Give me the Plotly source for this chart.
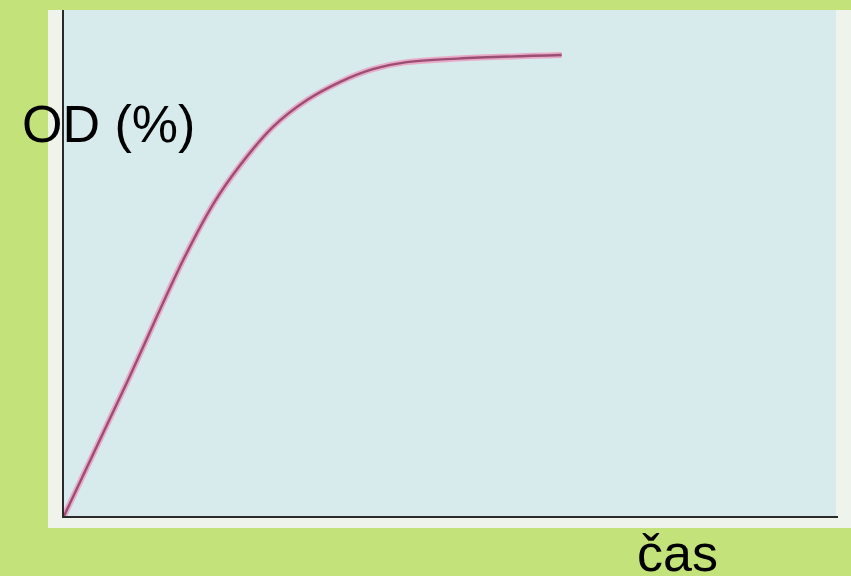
import plotly.graph_objects as go

# data (time in arbitrary units, OD in %)
cas = [0.0, 8.1, 15.4, 19.3, 22.7, 27.0, 31.4, 35.7, 39.9, 44.3, 50.9, 64.3]
od = [0.0, 26.3, 50.6, 61.7, 69.2, 76.9, 82.2, 85.8, 88.3, 89.7, 90.4, 91.1]

W, H = 851, 576
L, R, T, B = 64, 13, 10, 60
pw, ph = W - L - R, H - T - B


def px(x):
    return (x - L) / pw


def py(y):
    return (H - B - y) / ph


fig = go.Figure()
fig.add_trace(go.Scatter(x=cas, y=od, mode="lines",
                         line=dict(color="#e8aac6", width=6, shape="spline", smoothing=1.0),
                         hoverinfo="skip", showlegend=False))
fig.add_trace(go.Scatter(x=cas, y=od, mode="lines",
                         line=dict(color="#9a4e74", width=2.4, shape="spline", smoothing=1.0),
                         showlegend=False))

shapes = [
    dict(type="rect", xref="paper", yref="paper", x0=px(48), x1=px(851), y0=py(528), y1=py(10),
         fillcolor="#eef3ec", line=dict(width=0), layer="below"),
    dict(type="rect", xref="paper", yref="paper", x0=px(62), x1=px(836), y0=py(518), y1=py(10),
         fillcolor="#d7eaec", line=dict(width=0), layer="below"),
]

annotations = [
    dict(text="OD (%)", xref="paper", yref="paper", x=px(108), y=py(124), xanchor="center", yanchor="middle",
         showarrow=False, font=dict(family="Liberation Sans, Arial", size=52, color="black")),
    dict(text="čas", xref="paper", yref="paper", x=px(677), y=py(553), xanchor="center", yanchor="middle",
         showarrow=False, font=dict(family="Liberation Sans, Arial", size=52, color="black")),
]

fig.update_layout(
    width=W, height=H,
    margin=dict(l=L, r=R, t=T, b=B, pad=0),
    paper_bgcolor="#c3e27a",
    plot_bgcolor="rgba(0,0,0,0)",
    shapes=shapes,
    annotations=annotations,
    xaxis=dict(range=[0, 100], showgrid=False, zeroline=False, showticklabels=False, ticks="",
               showline=True, linecolor="#2a2a2a", linewidth=2),
    yaxis=dict(range=[0, 100], showgrid=False, zeroline=False, showticklabels=False, ticks="",
               showline=True, linecolor="#2a2a2a", linewidth=2),
)

fig.write_html("out.html", config={"displayModeBar": False},
               post_script="document.body.style.margin='0';document.body.style.padding='0';"
                           "document.body.style.background='#c3e27a';")
